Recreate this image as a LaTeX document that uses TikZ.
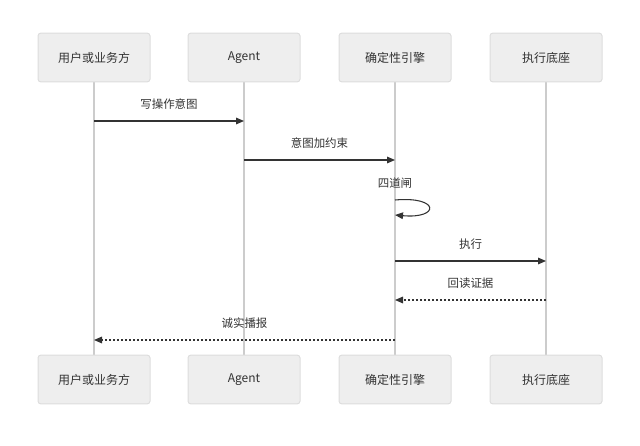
\documentclass[tikz,border=0pt]{standalone}
\usepackage{fontspec}
\setmainfont{Noto Sans CJK SC}
\usetikzlibrary{arrows.meta}
\definecolor{boxfill}{HTML}{EEEEEE}
\definecolor{boxline}{HTML}{DDDDDD}
\definecolor{lifeline}{HTML}{CCCCCC}
\definecolor{msg}{HTML}{333333}
\begin{document}
\begin{tikzpicture}[x=0.75pt,y=-0.75pt,
  actor/.style={draw=boxline, fill=boxfill, rounded corners=2pt, line width=0.75pt,
    minimum width=84pt, minimum height=36.5pt, inner sep=0pt, font=\fontsize{9}{11}\selectfont, text=msg},
  life/.style={draw=lifeline, line width=1.1pt},
  call/.style={draw=msg, line width=0.8pt, -{Triangle[length=6pt,width=5pt]}},
  reply/.style={call, dash pattern=on 1.5pt off 1.5pt},
  lbl/.style={font=\fontsize{8.6}{10}\selectfont, text=msg, inner sep=0pt}]
\useasboundingbox (0,0) rectangle (640,446);
% lifelines
\coordinate (l1t) at (94,82); \coordinate (l1b) at (94,355);
\coordinate (l2t) at (244,82); \coordinate (l2b) at (244,355);
\coordinate (l3t) at (395,82); \coordinate (l3b) at (395,355);
\coordinate (l4t) at (546,82); \coordinate (l4b) at (546,355);
\draw[life] (l1t) -- (l1b);
\draw[life] (l2t) -- (l2b);
\draw[life] (l3t) -- (l3b);
\draw[life] (l4t) -- (l4b);
% actors
\node[actor] (a1) at (94,57.5) {用户或业务方};
\node[actor] (a2) at (244,57.5) {Agent};
\node[actor] (a3) at (395,57.5) {确定性引擎};
\node[actor] (a4) at (546,57.5) {执行底座};
\node[actor] (b1) at (94,379.5) {用户或业务方};
\node[actor] (b2) at (244,379.5) {Agent};
\node[actor] (b3) at (395,379.5) {确定性引擎};
\node[actor] (b4) at (546,379.5) {执行底座};
% messages
\coordinate (m1s) at (94,121); \coordinate (m1e) at (244,121);
\draw[call] (m1s) -- (m1e);
\node[lbl] (t1) at (169,104) {写操作意图};
\coordinate (m2s) at (244,160); \coordinate (m2e) at (395,160);
\draw[call] (m2s) -- (m2e);
\node[lbl] (t2) at (319.5,143) {意图加约束};
\coordinate (m3s) at (395,200); \coordinate (m3e) at (395,215);
\draw[call] (m3s) .. controls (440,196) and (440,219) .. (m3e);
\node[lbl] (t3) at (395,183) {四道闸};
\coordinate (m4s) at (395,261); \coordinate (m4e) at (546,261);
\draw[call] (m4s) -- (m4e);
\node[lbl] (t4) at (470.5,244) {执行};
\coordinate (m5s) at (546,300); \coordinate (m5e) at (395,300);
\draw[reply] (m5s) -- (m5e);
\node[lbl] (t5) at (470.5,283) {回读证据};
\coordinate (m6s) at (395,340); \coordinate (m6e) at (94,340);
\draw[reply] (m6s) -- (m6e);
\node[lbl] (t6) at (244.5,323) {诚实播报};
\end{tikzpicture}
\end{document}
